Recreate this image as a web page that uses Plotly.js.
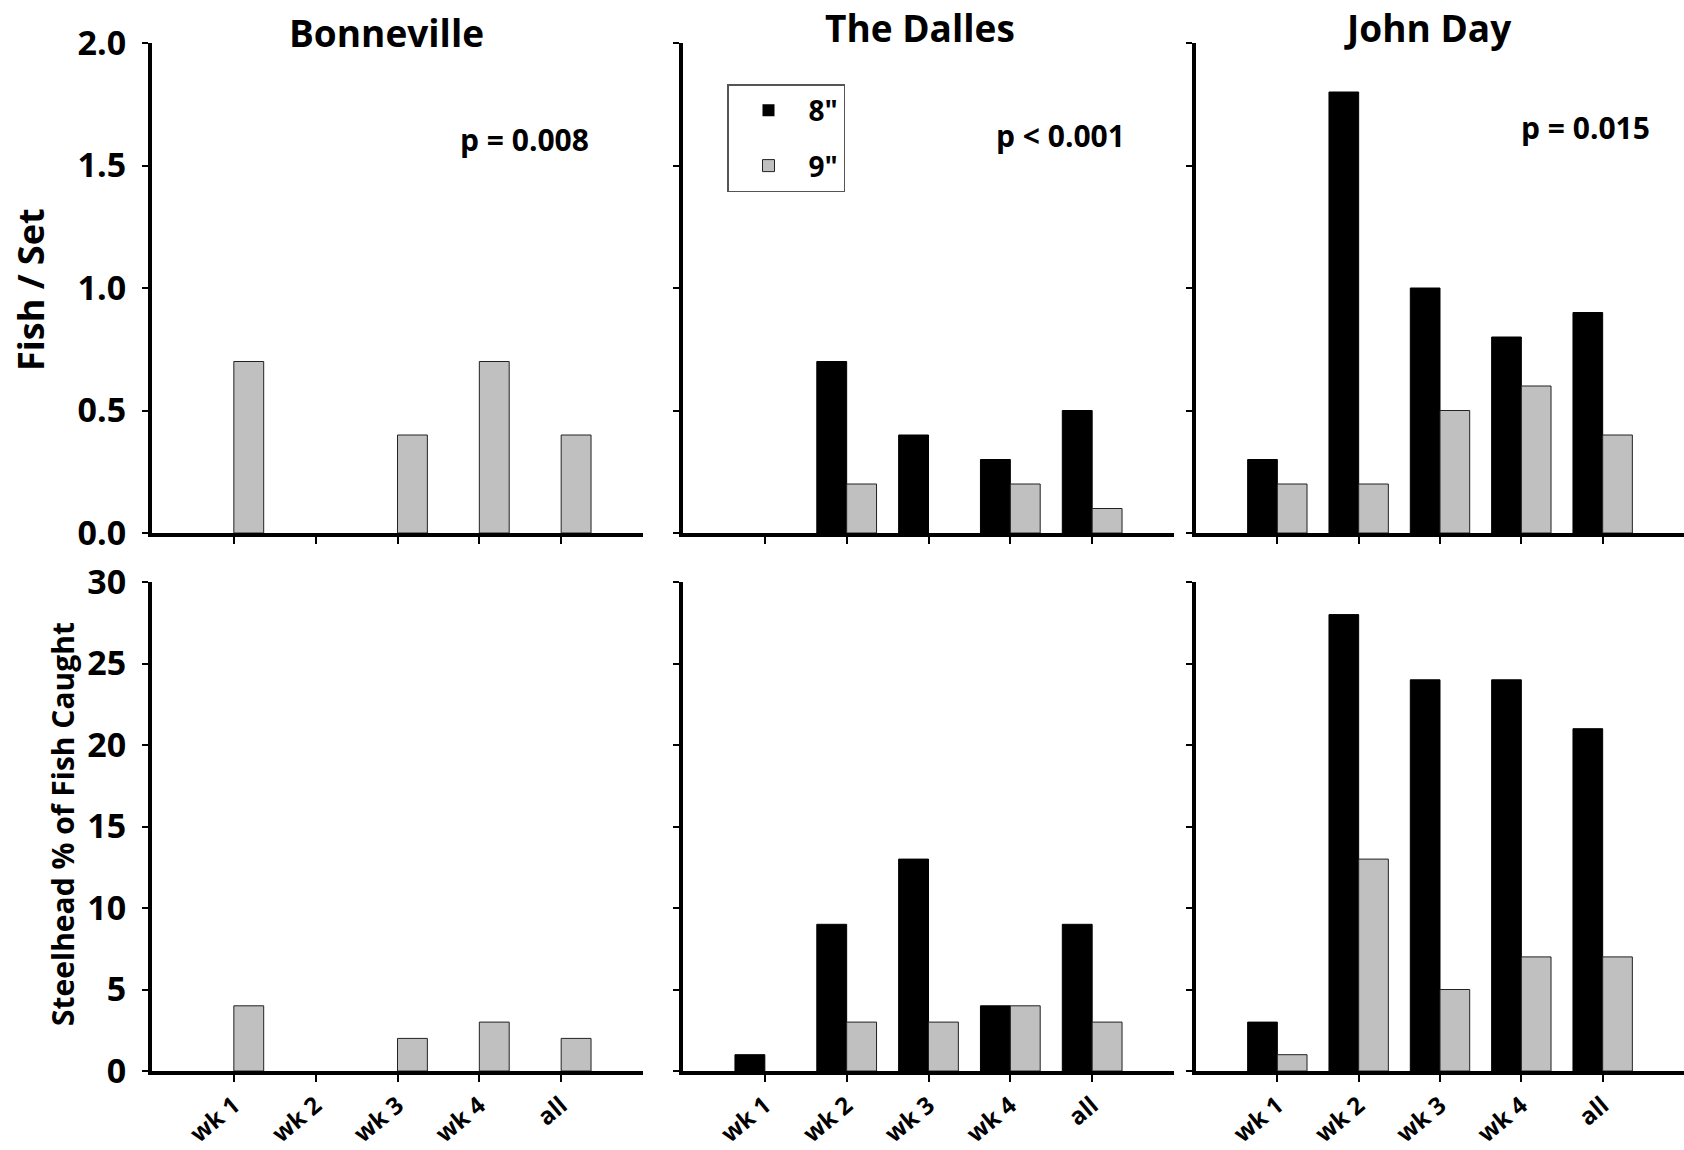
<!DOCTYPE html>
<html>
<head>
<meta charset="utf-8">
<script src="https://cdn.plot.ly/plotly-3.0.1.min.js"></script>
<style>html,body{margin:0;padding:0;background:#fff;}#chart{width:1684px;height:1150px;}</style>
</head>
<body>
<div id="chart"></div>
<script>
// ---- data ----
const categories = ["wk 1", "wk 2", "wk 3", "wk 4", "all"];
const sites = ["Bonneville", "The Dalles", "John Day"];
const pValues = ["p = 0.008", "p < 0.001", "p = 0.015"];
const seriesNames = ['8"', '9"'];

// Fish / Set
const fishSet8 = {
  "Bonneville": [0, 0, 0, 0, 0],
  "The Dalles": [0, 0.7, 0.4, 0.3, 0.5],
  "John Day":   [0.3, 1.8, 1.0, 0.8, 0.9]
};
const fishSet9 = {
  "Bonneville": [0.7, 0, 0.4, 0.7, 0.4],
  "The Dalles": [0, 0.2, 0, 0.2, 0.1],
  "John Day":   [0.2, 0.2, 0.5, 0.6, 0.4]
};
// Steelhead % of fish caught
const pct8 = {
  "Bonneville": [0, 0, 0, 0, 0],
  "The Dalles": [1, 9, 13, 4, 9],
  "John Day":   [3, 28, 24, 24, 21]
};
const pct9 = {
  "Bonneville": [4, 0, 2, 3, 2],
  "The Dalles": [0, 3, 3, 4, 3],
  "John Day":   [1, 13, 5, 7, 7]
};
const topTicks = [0, 0.5, 1.0, 1.5, 2.0];
const bottomTicks = [0, 5, 10, 15, 20, 25, 30];

// ---- layout constants ----
const W = 1684, H = 1150;
const FONT = "Open Sans, Liberation Sans, sans-serif";
const colBlack = "#000000", colGray = "#c0c0c0";
const xDomains = [[152 / W, 643 / W], [683 / W, 1174 / W], [1196 / W, 1.0]];
const yTop = [1 - 533 / H, 1 - 43 / H];
const yBot = [1 - 1071 / H, 1 - 582 / H];

const traces = [];
const layout = {
  width: W, height: H,
  margin: {l: 0, r: 0, t: 0, b: 0},
  paper_bgcolor: "#ffffff", plot_bgcolor: "rgba(0,0,0,0)",
  barmode: "group", bargap: 0.27, bargroupgap: 0,
  showlegend: true,
  legend: {
    x: 727 / W, y: 1 - 84 / H, xanchor: "left", yanchor: "top",
    bordercolor: "#555555", borderwidth: 1.5, bgcolor: "#ffffff",
    font: {family: FONT, size: 28, color: "#000", weight: "bold"},
    traceorder: "grouped", tracegroupgap: 16, itemwidth: 70
  },
  annotations: [],
  font: {family: FONT, color: "#000"}
};

function axisCommon() {
  return {
    showline: true, linecolor: "#000", linewidth: 4,
    showgrid: false, zeroline: false,
    ticks: "outside", tickcolor: "#000", ticklen: 7, tickwidth: 2,
    fixedrange: true
  };
}
const outline = vals => vals.map(v => (v === 0 ? 0 : 1));

sites.forEach((site, i) => {
  const rows = [
    {v8: fishSet8[site], v9: fishSet9[site], ax: i + 1, dom: yTop, ticks: topTicks, range: [0, 2], fmt: ".1f", labels: false},
    {v8: pct8[site], v9: pct9[site], ax: i + 4, dom: yBot, ticks: bottomTicks, range: [0, 30], fmt: "d", labels: true}
  ];
  rows.forEach((r, ri) => {
    const suf = r.ax === 1 ? "" : String(r.ax);
    const xa = "x" + suf, ya = "y" + suf;
    const first = (i === 0 && ri === 0);
    traces.push({
      type: "bar", x: categories, y: r.v8, name: seriesNames[0], xaxis: xa, yaxis: ya,
      marker: {color: colBlack, line: {color: "#000", width: outline(r.v8)}},
      legendgroup: "8", showlegend: first, hoverinfo: "x+y"
    });
    traces.push({
      type: "bar", x: categories, y: r.v9, name: seriesNames[1], xaxis: xa, yaxis: ya,
      marker: {color: colGray, line: {color: "#222", width: outline(r.v9)}},
      legendgroup: "9", showlegend: first, hoverinfo: "x+y"
    });
    layout["xaxis" + suf] = Object.assign(axisCommon(), {
      domain: xDomains[i], anchor: ya, type: "category",
      categoryorder: "array", categoryarray: categories,
      range: [-1, 5], showticklabels: r.labels, tickangle: -40,
      tickfont: {family: FONT, size: 24, color: "#000", weight: "bold"}
    });
    layout["yaxis" + suf] = Object.assign(axisCommon(), {
      domain: r.dom, anchor: xa, range: r.range,
      tickmode: "array", tickvals: r.ticks, tickformat: r.fmt,
      showticklabels: i === 0, ticklen: 6, ticklabelstandoff: 9,
      tickfont: {family: FONT, size: 34, color: "#000", weight: "bold"}
    });
  });
});

// panel titles and p-values
const titlePos = [[386, 32], [920, 28], [1428, 28]];
const pPos = [[524, 139], [1060, 135], [1585, 127]];
sites.forEach((site, i) => {
  layout.annotations.push({
    text: site, xref: "paper", yref: "paper",
    x: titlePos[i][0] / W, y: 1 - titlePos[i][1] / H, xanchor: "center", yanchor: "middle",
    showarrow: false, font: {family: FONT, size: 37, color: "#000", weight: "bold"}
  });
  layout.annotations.push({
    text: pValues[i], xref: "paper", yref: "paper",
    x: pPos[i][0] / W, y: 1 - pPos[i][1] / H, xanchor: "center", yanchor: "middle",
    showarrow: false, font: {family: FONT, size: 30, color: "#000", weight: "bold"}
  });
});
// y-axis titles
layout.annotations.push({
  text: "Fish / Set", xref: "paper", yref: "paper", x: 30 / W, y: 1 - 290 / H,
  xanchor: "center", yanchor: "middle", textangle: -90, showarrow: false,
  font: {family: FONT, size: 36, color: "#000", weight: "bold"}
});
layout.annotations.push({
  text: "Steelhead % of Fish Caught", xref: "paper", yref: "paper", x: 62 / W, y: 1 - 824 / H,
  xanchor: "center", yanchor: "middle", textangle: -90, showarrow: false,
  font: {family: FONT, size: 30, color: "#000", weight: "bold"}
});

Plotly.newPlot("chart", traces, layout, {displayModeBar: false, staticPlot: true});
</script>
</body>
</html>
